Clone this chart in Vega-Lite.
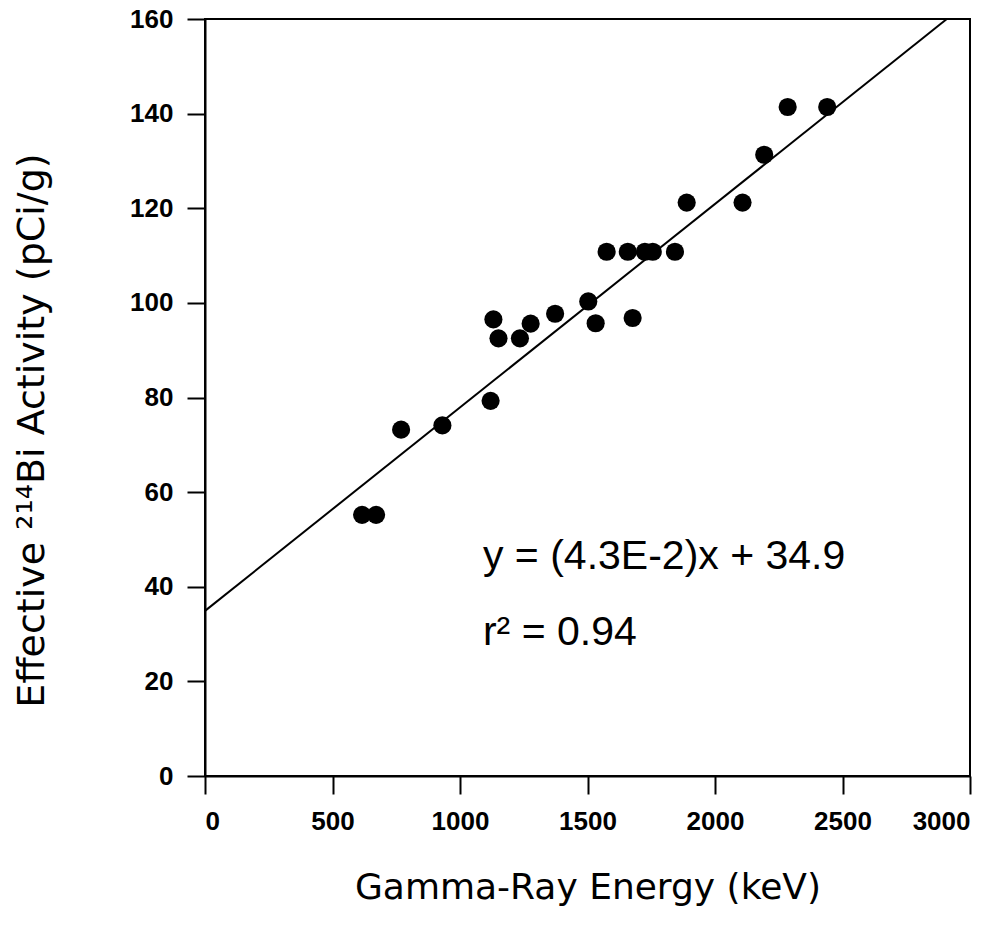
{
  "$schema": "https://vega.github.io/schema/vega-lite/v6.json",
  "width": 765,
  "height": 757,
  "autosize": {"type": "none"},
  "padding": {"left": 205, "top": 19, "right": 36, "bottom": 161},
  "background": "white",
  "config": {
    "view": {"stroke": "black", "strokeWidth": 2},
    "axis": {
      "grid": false,
      "domainColor": "black",
      "domainWidth": 2,
      "tickColor": "black",
      "tickWidth": 2,
      "tickSize": 18,
      "labelFont": "Liberation Sans",
      "labelFontSize": 26,
      "labelFontWeight": "bold",
      "labelColor": "black",
      "labelPadding": 14,
      "titleFont": "DejaVu Sans",
      "titleFontSize": 36,
      "titleFontWeight": "normal",
      "titleColor": "black"
    }
  },
  "datasets": {
    "pts": [
      {"energy": 616, "activity": 55.2},
      {"energy": 671, "activity": 55.2},
      {"energy": 769, "activity": 73.2},
      {"energy": 931, "activity": 74.1},
      {"energy": 1120, "activity": 79.3},
      {"energy": 1131, "activity": 96.5},
      {"energy": 1151, "activity": 92.5},
      {"energy": 1235, "activity": 92.5},
      {"energy": 1277, "activity": 95.6},
      {"energy": 1373, "activity": 97.7},
      {"energy": 1503, "activity": 100.3},
      {"energy": 1532, "activity": 95.7},
      {"energy": 1575, "activity": 110.8},
      {"energy": 1658, "activity": 110.8},
      {"energy": 1677, "activity": 96.8},
      {"energy": 1725, "activity": 110.8},
      {"energy": 1756, "activity": 110.8},
      {"energy": 1843, "activity": 110.8},
      {"energy": 1889, "activity": 121.2},
      {"energy": 2108, "activity": 121.2},
      {"energy": 2193, "activity": 131.3},
      {"energy": 2285, "activity": 141.4},
      {"energy": 2440, "activity": 141.4}
    ],
    "fit": [
      {"energy": 0, "activity": 34.9},
      {"energy": 2909, "activity": 160}
    ],
    "notes": [
      {"energy": 1090, "activity": 43.75, "label": "y = (4.3E-2)x + 34.9"},
      {"energy": 1090, "activity": 27.7, "label": "r² = 0.94"}
    ]
  },
  "layer": [
    {
      "data": {"name": "fit"},
      "mark": {"type": "line", "color": "black", "strokeWidth": 2},
      "encoding": {
        "x": {
          "field": "energy", "type": "quantitative",
          "scale": {"domain": [0, 3000], "nice": false, "zero": false},
          "axis": {
            "title": "Gamma-Ray Energy (keV)",
            "values": [0, 500, 1000, 1500, 2000, 2500, 3000],
            "format": "d",
            "titleBaseline": "alphabetic",
            "titleY": 122
          }
        },
        "y": {
          "field": "activity", "type": "quantitative",
          "scale": {"domain": [0, 160], "nice": false},
          "axis": {
            "title": "Effective ²¹⁴Bi Activity (pCi/g)",
            "values": [0, 20, 40, 60, 80, 100, 120, 140, 160],
            "format": "d",
            "titleFontSize": 38,
            "titleBaseline": "alphabetic",
            "titleX": -162,
            "titleY": 411
          }
        }
      }
    },
    {
      "data": {"name": "pts"},
      "mark": {"type": "circle", "color": "black", "opacity": 1, "size": 330},
      "encoding": {
        "x": {"field": "energy", "type": "quantitative"},
        "y": {"field": "activity", "type": "quantitative"}
      }
    },
    {
      "data": {"name": "notes"},
      "mark": {"type": "text", "font": "Liberation Sans", "fontSize": 41, "align": "left", "baseline": "alphabetic", "color": "black"},
      "encoding": {
        "x": {"field": "energy", "type": "quantitative"},
        "y": {"field": "activity", "type": "quantitative"},
        "text": {"field": "label"}
      }
    }
  ]
}
